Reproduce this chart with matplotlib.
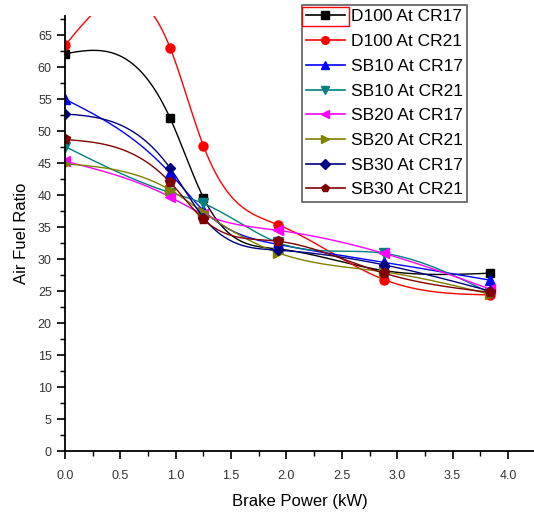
import numpy as np
import matplotlib
matplotlib.use("Agg")
import matplotlib.pyplot as plt
from matplotlib.ticker import MultipleLocator, FormatStrFormatter
from matplotlib.patches import Rectangle

plt.rcParams['font.family'] = ['Liberation Sans', 'DejaVu Sans']

brake_power = [0.0, 0.95, 1.25, 1.92, 2.88, 3.84]
series_names = ["D100 At CR17", "D100 At CR21", "SB10 At CR17", "SB10 At CR21",
                "SB20 At CR17", "SB20 At CR21", "SB30 At CR17", "SB30 At CR21"]
d100_cr17 = [62.1, 52.0, 39.6, 31.6, 28.2, 27.8]
d100_cr21 = [63.4, 63.0, 47.7, 35.4, 26.8, 24.4]
sb10_cr17 = [55.0, 43.4, 37.6, 32.3, 29.5, 26.7]
sb10_cr21 = [47.6, 40.4, 38.7, 32.6, 30.9, 24.7]
sb20_cr17 = [45.3, 39.7, 37.0, 34.5, 30.9, 25.3]
sb20_cr21 = [44.9, 40.8, 37.3, 31.0, 28.0, 24.5]
sb30_cr17 = [52.7, 44.2, 36.5, 31.4, 29.1, 25.0]
sb30_cr21 = [48.7, 42.0, 36.2, 32.8, 27.8, 24.8]

all_series = [d100_cr17, d100_cr21, sb10_cr17, sb10_cr21,
              sb20_cr17, sb20_cr21, sb30_cr17, sb30_cr21]
colors = ["#000000", "#ff0000", "#0000ff", "#008080",
          "#ff00ff", "#808000", "#000080", "#800000"]
markers = ["s", "o", "^", "v", "<", ">", "D", "p"]
msizes = [6, 6.5, 6.5, 6.5, 6.5, 6.5, 5.5, 7]


def natural_spline(x, y, n=300):
    x = np.asarray(x, float)
    y = np.asarray(y, float)
    k = len(x)
    h = np.diff(x)
    A = np.zeros((k, k))
    b = np.zeros(k)
    A[0, 0] = 1
    A[-1, -1] = 1
    for i in range(1, k - 1):
        A[i, i - 1] = h[i - 1]
        A[i, i] = 2 * (h[i - 1] + h[i])
        A[i, i + 1] = h[i]
        b[i] = 6 * ((y[i + 1] - y[i]) / h[i] - (y[i] - y[i - 1]) / h[i - 1])
    M = np.linalg.solve(A, b)
    xs = np.linspace(x[0], x[-1], n)
    idx = np.clip(np.searchsorted(x, xs) - 1, 0, k - 2)
    x0, x1 = x[idx], x[idx + 1]
    hh = x1 - x0
    ys = (M[idx] * (x1 - xs) ** 3 / (6 * hh) + M[idx + 1] * (xs - x0) ** 3 / (6 * hh)
          + (y[idx] / hh - M[idx] * hh / 6) * (x1 - xs)
          + (y[idx + 1] / hh - M[idx + 1] * hh / 6) * (xs - x0))
    return xs, ys


fig = plt.figure(figsize=(5.34, 5.16), dpi=100)
ax = fig.add_axes([65 / 534, 1 - 451 / 516, 469 / 534, 435 / 516])

handles = []
for name, vals, c, m, ms in zip(series_names, all_series, colors, markers, msizes):
    xs, ys = natural_spline(brake_power, vals)
    ax.plot(xs, ys, color=c, lw=1.0)
    ax.plot(brake_power, vals, linestyle='none', marker=m, color=c, ms=ms)
    h, = ax.plot([], [], color=c, lw=1.2, marker=m, ms=ms * 0.85, label=name)
    handles.append(h)

ax.set_xlim(0, 4.235)
ax.set_ylim(0, 68)
ax.xaxis.set_major_locator(MultipleLocator(0.5))
ax.xaxis.set_minor_locator(MultipleLocator(0.25))
ax.yaxis.set_major_locator(MultipleLocator(5))
ax.yaxis.set_minor_locator(MultipleLocator(2.5))
ax.spines['top'].set_visible(False)
ax.spines['right'].set_visible(False)
for s in ['left', 'bottom']:
    ax.spines[s].set_linewidth(1.3)
ax.tick_params(which='major', direction='out', length=6, width=1.2, labelsize=9, colors='#000000',
               labelcolor='#333333')
ax.tick_params(which='minor', direction='out', length=3.5, width=1.0)
ax.tick_params(axis='x', pad=8)
ax.xaxis.set_major_formatter(FormatStrFormatter('%.1f'))

ax.set_xlabel("Brake Power (kW)", fontsize=12, labelpad=8)
ax.set_ylabel("Air Fuel Ratio", fontsize=12, labelpad=6)

leg = ax.legend(handles=handles, loc='upper left', bbox_to_anchor=(302 / 534, 1 - 5 / 516),
                bbox_transform=fig.transFigure, fontsize=12.5, frameon=True, fancybox=False,
                borderpad=0.25, labelspacing=0.55, handlelength=2.2, handletextpad=0.35,
                borderaxespad=0)
leg.get_frame().set_edgecolor('#333333')
leg.get_frame().set_linewidth(1.2)

fig.canvas.draw()
renderer = fig.canvas.get_renderer()
hbox = leg.legend_handles[0].get_window_extent(renderer)
tbox = leg.get_texts()[0].get_window_extent(renderer)
W, H = fig.bbox.width, fig.bbox.height
x0r, x1r = hbox.x0 - 1, hbox.x1 + 1
y0r, y1r = tbox.y0 - 2, tbox.y1 + 2
fig.patches.append(Rectangle((x0r / W, y0r / H), (x1r - x0r) / W, (y1r - y0r) / H,
                             transform=fig.transFigure, fill=False, edgecolor='#ff0000',
                             linewidth=1.0, zorder=10))

fig.savefig("out.png", dpi=100)
